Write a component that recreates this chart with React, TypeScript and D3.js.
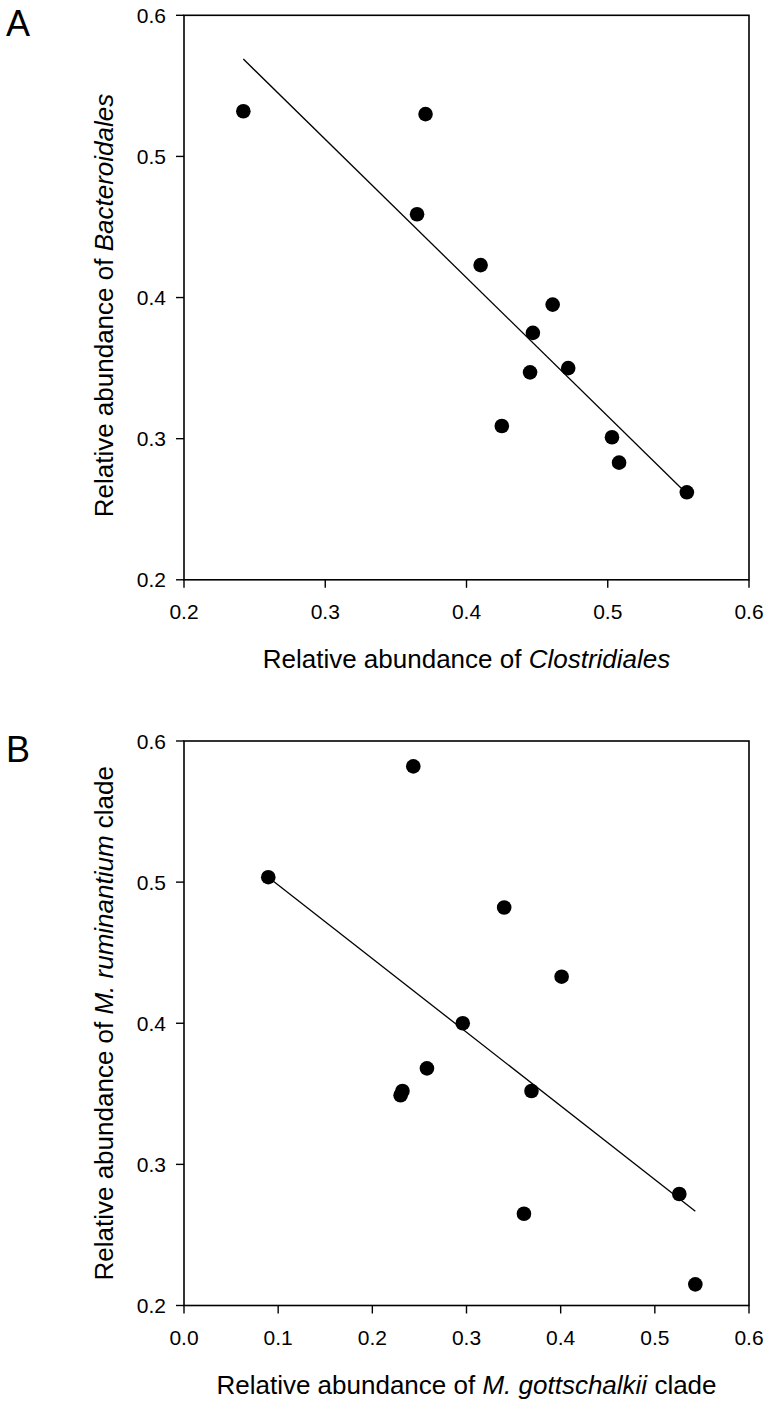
import * as d3 from "d3";
import React from "react";

// panel A: Clostridiales vs Bacteroidales
const clostridiales = [0.242, 0.371, 0.365, 0.41, 0.461, 0.447, 0.445, 0.472, 0.425, 0.503, 0.508, 0.556];
const bacteroidales = [0.532, 0.53, 0.459, 0.423, 0.395, 0.375, 0.347, 0.35, 0.309, 0.301, 0.283, 0.262];
const fitA = [
  [0.242, 0.569],
  [0.556, 0.261],
];

// panel B: M. gottschalkii clade vs M. ruminantium clade
const gottschalkii = [0.0895, 0.2435, 0.34, 0.401, 0.296, 0.258, 0.232, 0.23, 0.369, 0.361, 0.526, 0.543];
const ruminantium = [0.5035, 0.582, 0.482, 0.433, 0.4, 0.368, 0.352, 0.349, 0.352, 0.265, 0.279, 0.215];
const fitB = [
  [0.0895, 0.5035],
  [0.543, 0.2668],
];

const yTicks = [0.2, 0.3, 0.4, 0.5, 0.6];
const xTicksA = [0.2, 0.3, 0.4, 0.5, 0.6];
const xTicksB = [0.0, 0.1, 0.2, 0.3, 0.4, 0.5, 0.6];

const FONT = "'Liberation Sans', Arial, Helvetica, sans-serif";
const fmt = d3.format(".1f");

interface PanelProps {
  top: number;
  letter: string;
  xs: number[];
  ys: number[];
  fit: number[][];
  xDomain: [number, number];
  xTicks: number[];
  xTitle: React.ReactNode;
  yTitle: React.ReactNode;
  yTitleShift: number;
}

const Panel = ({ top, letter, xs, ys, fit, xDomain, xTicks, xTitle, yTitle, yTitleShift }: PanelProps) => {
  const left = 184;
  const right = 749;
  const h = 564.5;
  const x = d3.scaleLinear().domain(xDomain).range([left, right]);
  const y = d3.scaleLinear().domain([0.2, 0.6]).range([top + h, top]);
  const bottom = top + h;
  const line = d3
    .line<number[]>()
    .x((d) => x(d[0]))
    .y((d) => y(d[1]));

  return (
    <g>
      <text x={6} y={top + 21} fontSize={36} fontFamily={FONT}>
        {letter}
      </text>
      <rect x={left} y={top} width={right - left} height={h} fill="none" stroke="#000" strokeWidth={1.6} />
      {yTicks.map((t) => (
        <g key={"y" + t}>
          <line x1={left - 8} x2={left} y1={y(t)} y2={y(t)} stroke="#000" strokeWidth={1.4} />
          <text x={left - 18} y={y(t)} dy="0.36em" textAnchor="end" fontSize={21} fontFamily={FONT}>
            {fmt(t)}
          </text>
        </g>
      ))}
      {xTicks.map((t) => (
        <g key={"x" + t}>
          <line x1={x(t)} x2={x(t)} y1={bottom} y2={bottom + 8} stroke="#000" strokeWidth={1.4} />
          <text x={x(t)} y={bottom + 39} textAnchor="middle" fontSize={21} fontFamily={FONT}>
            {fmt(t)}
          </text>
        </g>
      ))}
      <path d={line(fit) || ""} fill="none" stroke="#000" strokeWidth={1.3} />
      {xs.map((v, i) => (
        <circle key={i} cx={x(v)} cy={y(ys[i])} r={7.3} fill="#000" />
      ))}
      <text x={(left + right) / 2} y={bottom + 88} textAnchor="middle" fontSize={26} fontFamily={FONT}>
        {xTitle}
      </text>
      <text
        transform={`translate(113,${(top + bottom) / 2 + yTitleShift}) rotate(-90)`}
        textAnchor="middle"
        fontSize={26}
        fontFamily={FONT}
      >
        {yTitle}
      </text>
    </g>
  );
};

export default function App() {
  return (
    <svg
      width={770}
      height={1407}
      style={{ position: "absolute", left: 0, top: 0, background: "#fff" }}
    >
      <Panel
        top={15.3}
        letter="A"
        xs={clostridiales}
        ys={bacteroidales}
        fit={fitA}
        xDomain={[0.2, 0.6]}
        xTicks={xTicksA}
        xTitle={
          <>
            Relative abundance of <tspan fontStyle="italic">Clostridiales</tspan>
          </>
        }
        yTitle={
          <>
            Relative abundance of <tspan fontStyle="italic">Bacteroidales</tspan>
          </>
        }
        yTitleShift={8}
      />
      <Panel
        top={741}
        letter="B"
        xs={gottschalkii}
        ys={ruminantium}
        fit={fitB}
        xDomain={[0, 0.6]}
        xTicks={xTicksB}
        xTitle={
          <>
            Relative abundance of <tspan fontStyle="italic">M. gottschalkii</tspan> clade
          </>
        }
        yTitle={
          <>
            Relative abundance of <tspan fontStyle="italic">M. ruminantium</tspan> clade
          </>
        }
        yTitleShift={0}
      />
    </svg>
  );
}
